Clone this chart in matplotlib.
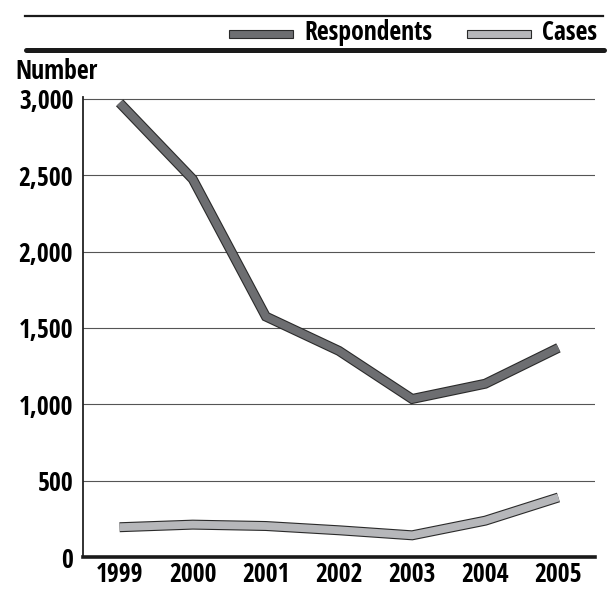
import os
import matplotlib
matplotlib.use("Agg")
import matplotlib.pyplot as plt
import matplotlib.patheffects as pe
from matplotlib.patches import Rectangle
from matplotlib.lines import Line2D
from matplotlib import font_manager
from matplotlib.font_manager import FontProperties

# data
years = ["1999", "2000", "2001", "2002", "2003", "2004", "2005"]
respondents = [2975, 2475, 1575, 1350, 1035, 1135, 1370]
cases = [195, 212, 203, 175, 142, 238, 390]
yticks = [0, 500, 1000, 1500, 2000, 2500, 3000]

# look for a condensed bold face, otherwise fall back to Roboto bold
prefs = ["liberationsansnarrow-bold.", "notosans-condensedbold.", "opensans-condbold.",
         "robotocondensed-bold.", "dejavusanscondensed-bold."]
files = {os.path.basename(f.fname).lower(): f.fname for f in font_manager.fontManager.ttflist}
font_file = None
for p in prefs:
    hit = [k for k in files if k.startswith(p)]
    if hit:
        font_file = files[hit[0]]
        break
if font_file:
    fp = FontProperties(fname=font_file, size=18.5)
else:
    fp = FontProperties(family=["Roboto", "DejaVu Sans"], weight="bold", size=16)

W, H = 615, 589
fig = plt.figure(figsize=(W / 100, H / 100), dpi=100)
ax = fig.add_axes([83 / W, 1 - 557 / H, (595 - 83) / W, (557 - 97) / H])

x = list(range(len(years)))
dark = "#6d6e71"
light = "#b6b7ba"
for vals, col in [(respondents, dark), (cases, light)]:
    ax.plot(x, vals, color=col, lw=5.6, solid_joinstyle="miter", solid_capstyle="butt",
            path_effects=[pe.Stroke(linewidth=7.2, foreground="#2a2a2a", joinstyle="miter", capstyle="butt"),
                          pe.Normal()], zorder=3)

ax.set_xlim(-0.5, 6.5)
ax.set_ylim(0, 3013)
ax.set_xticks(x)
ax.set_xticklabels(years, fontproperties=fp)
ax.set_yticks(yticks)
ax.set_yticklabels([f"{v:,}" for v in yticks], fontproperties=fp)
ax.tick_params(axis="both", length=0)
ax.tick_params(axis="y", pad=7)
ax.tick_params(axis="x", pad=3)
for v in yticks[1:]:
    ax.axhline(v, color="#555555", lw=0.8, zorder=1)

for s in ["top", "right"]:
    ax.spines[s].set_visible(False)
ax.spines["left"].set_linewidth(1.3)
ax.spines["left"].set_color("#222222")
ax.spines["bottom"].set_linewidth(2.6)
ax.spines["bottom"].set_color("#1a1a1a")

fig.text(15 / W, 1 - 58 / H, "Number", fontproperties=fp, ha="left", va="top")

# header rules and legend
fig.add_artist(Line2D([25 / W, 603 / W], [1 - 16 / H, 1 - 16 / H], color="#1a1a1a", lw=1.6))
fig.add_artist(Line2D([26 / W, 604 / W], [1 - 50 / H, 1 - 50 / H], color="#1a1a1a", lw=3.6,
                      solid_capstyle="round"))
for x0, x1, col, label in [(229, 293, dark, "Respondents"), (467, 531, light, "Cases")]:
    fig.add_artist(Rectangle((x0 / W, 1 - 38 / H), (x1 - x0) / W, 8 / H, transform=fig.transFigure,
                             facecolor=col, edgecolor="#2a2a2a", lw=0.8))
    fig.text((x1 + 11) / W, 1 - 33 / H, label, fontproperties=fp, ha="left", va="center")

fig.savefig("out.png", dpi=100)
